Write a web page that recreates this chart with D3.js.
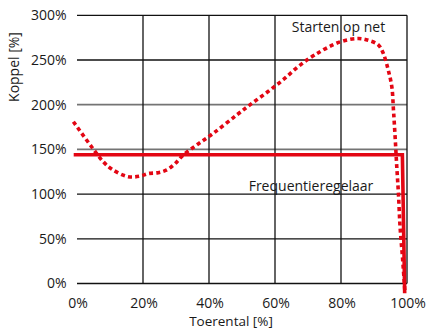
<!DOCTYPE html>
<html>
<head>
<meta charset="utf-8">
<script src="https://cdn.jsdelivr.net/npm/d3@7"></script>
<style>
  body { margin: 0; background: #fff; }
  svg { display: block; }
  text { font-family: "Open Sans", sans-serif; fill: #1a1a1a; }
</style>
</head>
<body>
<svg id="chart" width="428" height="329"></svg>
<script>
// ---- data ----
const xTicks = [0, 20, 40, 60, 80, 100];
const yTicks = [0, 50, 100, 150, 200, 250, 300];
const greyYTicks = [150, 200];
const xTickLabels = ["0%", "20%", "40%", "60%", "80%", "100%"];
const yTickLabels = ["0%", "50%", "100%", "150%", "200%", "250%", "300%"];

// Starten op net (dotted) – speed %, torque %
const startSpeed  = [-1.1, 4.4, 8, 10.5, 15.5, 19, 21.6, 24.6, 27.2, 29.7, 32.2, 36.3, 41.3, 48.4, 53, 58, 62.5, 67, 72, 79.5, 85.2, 88.3, 91.3, 92.8, 94.3, 95.4, 95.9, 96.4, 96.9, 97.4, 97.9, 98.7, 99.4];
const startTorque = [181, 153, 136, 128, 119.5, 120, 123, 124, 127, 134, 143.7, 155, 168, 188.5, 201.5, 215, 228, 242.5, 255.6, 270, 274, 272, 267, 257.5, 239, 220, 194, 164, 130.6, 101, 63.5, 26, -11];

// Frequentieregelaar (solid)
const vfdSpeed  = [-1, 98.6, 99.3];
const vfdTorque = [144, 144, -11];

const labelStart = "Starten op net";
const labelVfd = "Frequentieregelaar";
const xTitle = "Toerental [%]";
const yTitle = "Koppel [%]";

// ---- chart ----
const svg = d3.select("#chart");
const x = d3.scaleLinear().domain([0, 100]).range([77, 407]);
const y = d3.scaleLinear().domain([0, 300]).range([283.5, 15.3]);
const red = "#e30613";

// horizontal gridlines
svg.append("g").selectAll("line").data(yTicks).join("line")
  .attr("x1", x(0)).attr("x2", x(100))
  .attr("y1", d => y(d)).attr("y2", d => y(d))
  .attr("stroke", d => greyYTicks.includes(d) ? "#747474" : "#111")
  .attr("stroke-width", d => greyYTicks.includes(d) ? 1.8 : 1.3);

// vertical gridlines
svg.append("g").selectAll("line").data(xTicks.filter(d => d > 0)).join("line")
  .attr("x1", d => x(d)).attr("x2", d => x(d))
  .attr("y1", y(300)).attr("y2", y(0))
  .attr("stroke", "#111").attr("stroke-width", 1.3);

// tick labels
svg.append("g").selectAll("text").data(yTicks).join("text")
  .attr("x", 66.5).attr("y", d => y(d)).attr("dy", "0.35em")
  .attr("text-anchor", "end").attr("font-size", 14)
  .text((d, i) => yTickLabels[i]);

svg.append("g").selectAll("text").data(xTicks).join("text")
  .attr("x", d => x(d) + 1).attr("y", 308)
  .attr("text-anchor", "middle").attr("font-size", 14)
  .text((d, i) => xTickLabels[i]);

// axis titles
svg.append("text").attr("x", 231).attr("y", 326)
  .attr("text-anchor", "middle").attr("font-size", 13.5).text(xTitle);
svg.append("text")
  .attr("transform", "translate(19,67) rotate(-90)")
  .attr("text-anchor", "middle").attr("font-size", 14).text(yTitle);

// lines
const line = d3.line().x(d => x(d[0])).y(d => y(d[1])).curve(d3.curveCatmullRom.alpha(0.5));
const startData = startSpeed.map((s, i) => [s, startTorque[i]]);
const vfdData = vfdSpeed.map((s, i) => [s, vfdTorque[i]]);

svg.append("path").datum(vfdData)
  .attr("d", d3.line().x(d => x(d[0])).y(d => y(d[1])))
  .attr("fill", "none").attr("stroke", red).attr("stroke-width", 3.6);

svg.append("path").datum(startData)
  .attr("d", line)
  .attr("fill", "none").attr("stroke", red).attr("stroke-width", 3.6)
  .attr("stroke-dasharray", "4,3.2");

// labels
svg.append("text").attr("x", 338.5).attr("y", 31.5)
  .attr("text-anchor", "middle").attr("font-size", 14).text(labelStart);
svg.append("text").attr("x", 311).attr("y", 191)
  .attr("text-anchor", "middle").attr("font-size", 14).text(labelVfd);
</script>
</body>
</html>
